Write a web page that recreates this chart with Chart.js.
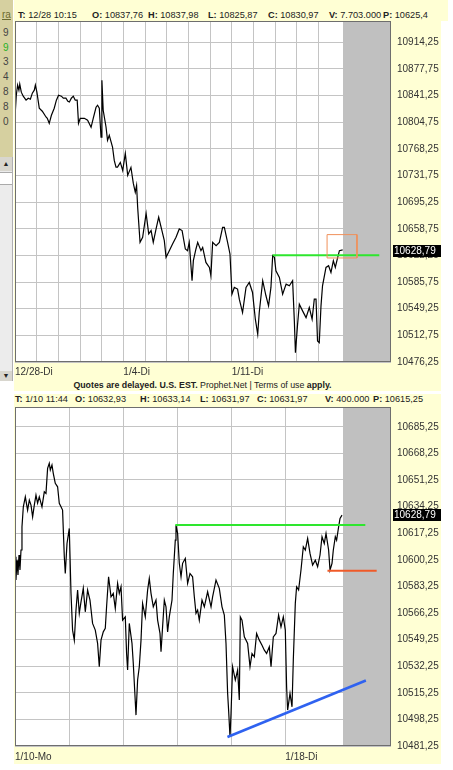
<!DOCTYPE html>
<html>
<head>
<meta charset="utf-8">
<script src="https://cdn.jsdelivr.net/npm/chart.js@4.4.1/dist/chart.umd.min.js"></script>
<style>
  body { margin: 0; width: 453px; height: 770px; position: relative; overflow: hidden; background: #fff;
         font-family: "Liberation Sans", Arial, sans-serif; font-size: 10px; color: #222; }
  .yel { position: absolute; background: #ffffd4; }
  .hdr { position: absolute; left: 0; width: 453px; overflow: hidden; white-space: nowrap; font-size: 9.2px; }
  .hdr span { position: absolute; line-height: 12px; }
  canvas { position: absolute; left: 0; }
  #strip { position: absolute; left: 0; top: 0; width: 13px; height: 157px; background: #d6d0a0; }
  #strip div { position: absolute; left: 3px; line-height: 12px; color: #444; }
  #scroll { position: absolute; left: 0; top: 157px; width: 12px; height: 224px; background: #ececec; border-right: 1px solid #b0b0b0; }
  #note { position: absolute; left: 14px; width: 377px; top: 379px; text-align: center; line-height: 12px; white-space: nowrap; font-size: 8.8px; }
</style>
</head>
<body>
<div class="yel" style="left:14px;top:0;width:434px;height:21px"></div>
<div class="yel" style="left:14px;top:0;width:427px;height:391px"></div>
<div class="yel" style="left:14px;top:394px;width:427px;height:370px"></div>

<div id="strip">
  <div style="top:9px;left:2px;color:#6b6a30;text-decoration:underline">ra</div>
  <div style="top:27px">9</div>
  <div style="top:42px;color:#27b027">9</div>
  <div style="top:56px">3</div>
  <div style="top:71px">4</div>
  <div style="top:86px">8</div>
  <div style="top:101px">8</div>
  <div style="top:116px">0</div>
</div>
<div id="scroll">
  <div style="position:absolute;left:0;top:0;width:12px;height:14px;background:#d8d6ce;font-size:7px;text-align:center;line-height:14px">&#9650;</div>
  <div style="position:absolute;left:0;top:15px;width:12px;height:11px;background:#fff;border-top:1px solid #aaa;border-bottom:1px solid #aaa"></div>
  <div style="position:absolute;left:0;top:214px;width:12px;height:10px;background:#d8d6ce;font-size:7px;text-align:center;line-height:10px">&#9660;</div>
</div>

<div class="hdr" style="top:6px;height:14px">
  <span style="left:18px;top:3px"><b>T:</b> 12/28 10:15</span>
  <span style="left:92px;top:3px"><b>O:</b> 10837,76</span>
  <span style="left:148px;top:3px"><b>H:</b> 10837,98</span>
  <span style="left:208px;top:3px"><b>L:</b> 10825,87</span>
  <span style="left:268px;top:3px"><b>C:</b> 10830,97</span>
  <span style="left:329px;top:3px"><b>V:</b> 7.703.000</span>
  <span style="left:383px;top:3px"><b>P:</b> 10625,4</span>
</div>
<div class="hdr" style="top:396px;height:9px">
  <span style="left:15px;top:-3px"><b>T:</b> 1/10 11:44</span>
  <span style="left:75px;top:-3px"><b>O:</b> 10632,93</span>
  <span style="left:140px;top:-3px"><b>H:</b> 10633,14</span>
  <span style="left:200px;top:-3px"><b>L:</b> 10631,97</span>
  <span style="left:257px;top:-3px"><b>C:</b> 10631,97</span>
  <span style="left:325px;top:-3px"><b>V:</b> 400.000</span>
  <span style="left:373px;top:-3px"><b>P:</b> 10615,25</span>
</div>
<div id="note"><b>Quotes are delayed. U.S. EST.</b> Prophet.Net | Terms of use <b>apply.</b></div>

<canvas id="topChart" width="453" height="392" style="top:0"></canvas>
<canvas id="botChart" width="453" height="373" style="top:392px"></canvas>

<script>
// ---- top panel: 12/28 - 1/18, one unit per trading day ----
const topX = [
  0.00,0.06,0.12,0.18,0.22,0.29,0.38,0.51,0.61,0.71,
  0.80,0.89,0.94,1.01,1.12,1.26,1.43,1.49,1.58,1.68,
  1.81,1.91,2.01,2.14,2.23,2.35,2.44,2.51,2.60,2.69,
  2.78,2.87,2.93,3.01,3.20,3.35,3.51,3.61,3.74,3.81,
  3.89,3.97,4.01,4.07,4.20,4.27,4.35,4.50,4.58,4.66,
  4.73,4.86,4.97,5.09,5.20,5.35,5.46,5.55,5.61,5.66,
  5.77,5.89,6.05,6.17,6.28,6.38,6.51,6.63,6.78,6.89,
  6.97,7.12,7.27,7.43,7.58,7.71,7.86,7.96,8.04,8.17,
  8.23,8.35,8.43,8.58,8.66,8.81,8.97,9.04,9.12,9.28,
  9.43,9.58,9.66,9.81,9.92,10.01,10.12,10.27,10.35,10.50,
  10.66,10.81,10.96,11.09,11.20,11.27,11.43,11.58,11.70,11.81,
  11.89,11.97,12.04,12.20,12.35,12.51,12.66,12.81,12.89,12.94,
  13.04,13.12,13.27,13.43,13.58,13.71,13.81,13.89,13.96,14.04,
  14.12,14.19,14.35,14.47,14.58,14.69,14.78,14.89,14.97,15.12
];
const topY = [
  10812.0,10841.8,10855.6,10848.7,10857.0,10846.0,10840.5,10835.0,10837.7,10836.3,
  10844.6,10848.7,10855.6,10846.0,10824.0,10819.9,10812.0,10810.2,10803.3,10814.3,
  10824.0,10835.0,10841.8,10840.5,10837.7,10837.7,10833.6,10832.6,10837.7,10840.5,
  10835.0,10835.0,10803.3,10810.2,10810.2,10807.5,10797.8,10810.2,10825.3,10828.1,
  10824.0,10784.5,10862.4,10821.2,10798.3,10780.0,10786.9,10770.8,10752.5,10743.3,
  10743.3,10749.7,10738.7,10762.1,10731.9,10742.9,10720.9,10708.9,10718.1,10688.3,
  10640.2,10647.1,10679.7,10651.8,10656.3,10640.2,10658.6,10674.6,10656.3,10642.6,
  10619.6,10628.8,10638.0,10647.1,10658.6,10656.3,10631.1,10628.8,10640.2,10587.6,
  10615.1,10631.1,10640.2,10628.8,10633.3,10612.7,10605.9,10594.5,10640.2,10635.7,
  10640.2,10660.8,10660.8,10640.2,10624.3,10569.3,10578.4,10576.2,10562.4,10544.0,
  10578.4,10585.2,10571.5,10534.9,10514.3,10544.0,10587.6,10567.0,10553.2,10578.4,
  10622.0,10619.6,10601.3,10592.1,10569.3,10583.0,10580.7,10587.6,10532.6,10489.0,
  10528.1,10555.5,10546.3,10537.1,10550.9,10534.9,10562.4,10562.4,10505.1,10502.8,
  10553.2,10580.7,10605.9,10608.2,10598.9,10615.1,10605.9,10619.6,10628.8,10629.8
];
const topYTicks = [10476.25,10512.75,10549.25,10585.75,10622.25,10658.75,10695.25,
                   10731.75,10768.25,10804.75,10841.25,10877.75,10914.25];
const topXLabels = ['12/28-Di','','','','','1/4-Di','','','','','1/11-Di','','','',''];
const topGreenX = [11.89, 16.81];
const topGreenY = [10622.5, 10622.5];
const topBoxX = [14.40, 15.78, 15.78, 14.40, 14.40];
const topBoxY = [10650.8, 10650.8, 10618.8, 10618.8, 10650.8];
const TOP_GRAY_FROM = 15.15;

// ---- bottom panel: 1/10 - 1/18 intraday ----
const botX = [
  0.006,0.018,0.037,0.055,0.074,0.092,0.111,0.129,0.154,0.191,
  0.233,0.265,0.296,0.326,0.357,0.388,0.418,0.449,0.499,0.542,
  0.573,0.603,0.634,0.653,0.684,0.708,0.745,0.788,0.819,0.851,
  0.880,0.912,0.930,0.962,1.004,1.036,1.065,1.097,1.128,1.158,
  1.189,1.221,1.263,1.300,1.343,1.387,1.435,1.485,1.528,1.559,
  1.591,1.633,1.670,1.694,1.731,1.776,1.818,1.855,1.898,1.929,
  1.961,1.990,2.040,2.064,2.083,2.114,2.164,2.188,2.225,2.238,
  2.268,2.299,2.331,2.360,2.410,2.453,2.484,2.516,2.558,2.608,
  2.638,2.682,2.701,2.730,2.762,2.793,2.823,2.854,2.904,2.928,
  2.965,2.978,3.008,3.039,3.071,3.100,3.150,3.193,3.237,3.285,
  3.317,3.348,3.378,3.409,3.459,3.502,3.563,3.626,3.655,3.718,
  3.779,3.829,3.872,3.903,3.933,3.951,3.977,3.996,4.025,4.075,
  4.118,4.149,4.168,4.199,4.242,4.303,4.347,4.384,4.427,4.469,
  4.519,4.569,4.612,4.654,4.704,4.736,4.778,4.828,4.876,4.920,
  4.963,5.000,5.024,5.043,5.087,5.124,5.148,5.185,5.209,5.246,
  5.290,5.333,5.370,5.413,5.457,5.505,5.555,5.598,5.642,5.679,
  5.721,5.753,5.801,5.827,5.864,5.888,5.925,5.949,5.986,6.012,
  6.049
];
const botY = [
  10602.2,10587.3,10600.0,10590.5,10603.3,10593.7,10606.5,10621.3,10634.1,10640.5,
  10632.0,10638.4,10635.2,10627.7,10635.2,10641.6,10636.5,10640.5,10634.1,10643.7,
  10642.7,10658.7,10661.9,10657.6,10660.8,10655.5,10649.1,10646.9,10636.3,10634.1,
  10632.0,10602.2,10591.5,10610.7,10620.3,10578.8,10555.3,10548.9,10568.1,10580.9,
  10566.0,10573.4,10582.0,10567.0,10580.9,10574.5,10559.6,10555.3,10546.8,10531.9,
  10548.9,10554.2,10556.4,10570.2,10589.4,10576.6,10578.8,10569.2,10585.2,10578.8,
  10583.0,10561.7,10563.8,10540.4,10529.8,10559.6,10546.8,10534.0,10509.5,10501.0,
  10523.4,10531.9,10548.9,10572.4,10563.8,10580.9,10588.4,10578.8,10570.2,10574.5,
  10561.7,10553.2,10541.5,10557.4,10574.5,10570.2,10554.2,10563.8,10574.5,10591.5,
  10612.8,10622.4,10617.1,10598.0,10589.4,10598.0,10601.1,10585.2,10591.5,10589.4,
  10576.6,10566.0,10568.1,10561.7,10574.5,10570.2,10579.8,10570.2,10576.6,10587.3,
  10582.0,10570.2,10564.9,10546.8,10514.9,10504.2,10487.1,10502.1,10531.9,10523.4,
  10529.8,10510.6,10563.8,10561.7,10551.0,10546.8,10531.9,10540.4,10538.3,10553.2,
  10548.9,10545.7,10542.5,10540.4,10544.6,10531.9,10551.0,10553.2,10564.9,10557.4,
  10563.8,10555.3,10519.1,10504.2,10514.9,10506.3,10536.2,10572.4,10583.0,10580.9,
  10593.7,10608.6,10606.5,10613.9,10604.3,10596.9,10600.0,10595.8,10603.3,10615.0,
  10610.7,10617.1,10606.5,10593.7,10598.0,10606.5,10615.0,10612.8,10621.3,10626.7,
  10628.8
];
const botYTicks = [10481.25,10498.25,10515.25,10532.25,10549.25,10566.25,10583.25,
                   10600.25,10617.25,10634.25,10651.25,10668.25,10685.25];
const botXLabels = ['1/10-Mo','','','','','1/18-Di'];
const botGreenX = [2.965, 6.48];
const botGreenY = [10622.5, 10622.5];
const botRedX = [5.78, 6.69];
const botRedY = [10593.25, 10593.25];
const botBlueX = [3.93, 6.49];
const botBlueY = [10487.0, 10523.1];
const BOT_GRAY_FROM = 6.07;

const LAST_PRICE = 10628.79;

Chart.defaults.font.family = '"Liberation Sans", Arial, sans-serif';
Chart.defaults.font.size = 10;
Chart.defaults.color = '#333';

const fmt = (v) => v.toFixed(2).replace('.', ',');
const pts = (xs, ys) => xs.map((x, i) => ({ x, y: ys[i] }));

function panelPlugin(grayFrom) {
  return {
    id: 'panel',
    beforeDraw(chart) {
      const { ctx, chartArea: a } = chart;
      ctx.save();
      ctx.fillStyle = '#fff';
      ctx.fillRect(a.left, a.top, a.right - a.left, a.bottom - a.top);
      ctx.restore();
    },
    beforeDatasetsDraw(chart) {
      const { ctx, chartArea: a, scales } = chart;
      const gx = Math.round(scales.x.getPixelForValue(grayFrom));
      ctx.save();
      ctx.fillStyle = '#c0c0c0';
      ctx.fillRect(gx, a.top, a.right - gx, a.bottom - a.top);
      ctx.restore();
    },
    afterDraw(chart) {
      const { ctx, chartArea: a, scales } = chart;
      ctx.save();
      // frame
      ctx.strokeStyle = '#6e6e6e';
      ctx.lineWidth = 1;
      ctx.strokeRect(Math.round(a.left) + 0.5, Math.round(a.top) + 0.5,
        Math.round(a.right - a.left) - 1, Math.round(a.bottom - a.top) - 1);
      // last price box
      const py = Math.round(scales.y.getPixelForValue(LAST_PRICE));
      ctx.fillStyle = '#000';
      ctx.fillRect(a.right + 2, py - 6, 48, 12);
      ctx.fillStyle = '#fff';
      ctx.textBaseline = 'middle';
      ctx.textAlign = 'left';
      ctx.font = '10px "Liberation Sans", Arial, sans-serif';
      ctx.fillText(fmt(LAST_PRICE), a.right + 3, py + 0.5);
      ctx.restore();
    }
  };
}

function makeChart(id, o) {
  const line = (data, color, width, order) => ({
    data, borderColor: color, borderWidth: width, pointRadius: 0,
    tension: 0, fill: false, order
  });
  return new Chart(document.getElementById(id), {
    type: 'line',
    data: { datasets: [line(pts(o.xs, o.ys), '#000', 1.2, 2)].concat(o.extras) },
    plugins: [panelPlugin(o.grayFrom)],
    options: {
      responsive: false,
      animation: false,
      events: [],
      layout: { padding: { left: 15, top: o.padTop, right: 0, bottom: 0 } },
      plugins: { legend: { display: false }, tooltip: { enabled: false } },
      scales: {
        x: {
          type: 'linear', min: 0, max: o.xMax,
          afterBuildTicks: (s) => { s.ticks = o.xLabels.map((_, i) => ({ value: i })); },
          afterFit: (s) => { s.height = o.xAxisHeight; },
          ticks: { callback: (v, i) => o.xLabels[i], autoSkip: false, maxRotation: 0,
                   align: 'start', padding: o.xPad, color: '#333' },
          grid: { color: '#c4c4c4', drawTicks: false },
          border: { display: false }
        },
        y: {
          position: 'right', min: o.yMin, max: o.yMax,
          afterBuildTicks: (s) => { s.ticks = o.yTicks.map((v) => ({ value: v })); },
          afterFit: (s) => { s.width = 62; },
          ticks: { callback: (v) => fmt(v), padding: 6, color: '#333' },
          grid: { color: '#c4c4c4', drawTicks: false },
          border: { display: false }
        }
      }
    }
  });
}

makeChart('topChart', {
  xs: topX, ys: topY, xMax: 17.35, yMin: 10476.25, yMax: 10943.5,
  yTicks: topYTicks, xLabels: topXLabels, grayFrom: TOP_GRAY_FROM,
  padTop: 21, xAxisHeight: 30, xPad: 4,
  extras: [
    { data: pts(topGreenX, topGreenY), borderColor: '#2ee62e', borderWidth: 2, pointRadius: 0, order: 1 },
    { data: pts(topBoxX, topBoxY), borderColor: '#f0905a', borderWidth: 1, pointRadius: 0, order: 0 }
  ]
});

makeChart('botChart', {
  xs: botX, ys: botY, xMax: 6.955, yMin: 10481.25, yMax: 10697.9,
  yTicks: botYTicks, xLabels: botXLabels, grayFrom: BOT_GRAY_FROM,
  padTop: 15, xAxisHeight: 19, xPad: 5,
  extras: [
    { data: pts(botGreenX, botGreenY), borderColor: '#2ee62e', borderWidth: 2, pointRadius: 0, order: 1 },
    { data: pts(botRedX, botRedY), borderColor: '#f05a28', borderWidth: 2, pointRadius: 0, order: 1 },
    { data: pts(botBlueX, botBlueY), borderColor: '#2f62f0', borderWidth: 2.5, pointRadius: 0, order: 1 }
  ]
});
</script>
</body>
</html>
